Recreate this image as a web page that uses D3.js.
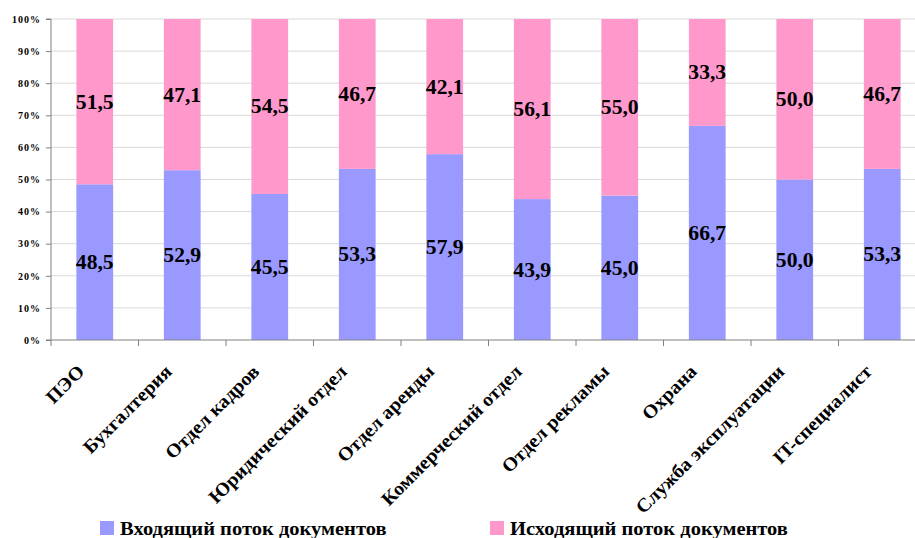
<!DOCTYPE html>
<html><head><meta charset="utf-8">
<script src="https://cdn.jsdelivr.net/npm/d3@7"></script>
<style>body{margin:0;background:#fff}svg{display:block}text{font-family:"Liberation Serif","Times New Roman","DejaVu Serif",serif}</style>
</head><body><svg id="c" width="915" height="538"></svg>
<script>
const categories = ["ПЭО","Бухгалтерия","Отдел кадров","Юридический отдел","Отдел аренды","Коммерческий отдел","Отдел рекламы","Охрана","Служба эксплуатации","IT-специалист"];
const incoming = [48.5, 52.9, 45.5, 53.3, 57.9, 43.9, 45.0, 66.7, 50.0, 53.3];
const outgoing = [51.5, 47.1, 54.5, 46.7, 42.1, 56.1, 55.0, 33.3, 50.0, 46.7];
const seriesNames = ["Входящий поток документов","Исходящий поток документов"];
const yTicks = [0,10,20,30,40,50,60,70,80,90,100];

const colors = ["#9999FF","#FF99CC"];
const svg = d3.select("#c");
const L = 51, T = 19, B = 340, R = 51 + 87.5*10;
const x = d3.scaleBand().domain(categories).range([L, R]).paddingInner(0.58).paddingOuter(0.29);
const y = d3.scaleLinear().domain([0,100]).range([B, T]);

// gridlines
svg.append("g").selectAll("line").data(yTicks.filter(d=>d>0)).join("line")
  .attr("x1", L).attr("x2", 915).attr("y1", d=>y(d)).attr("y2", d=>y(d))
  .attr("stroke", "#d9d9d9").attr("stroke-width", 1);

// bars
const stacked = categories.map((c,i)=>({c, segs:[{s:0,y0:0,y1:incoming[i],v:incoming[i]},{s:1,y0:incoming[i],y1:incoming[i]+outgoing[i],v:outgoing[i]}]}));
const g = svg.append("g");
stacked.forEach(d=>{
  d.segs.forEach(s=>{
    const top = Math.min(100,s.y1);
    g.append("rect").attr("x", x(d.c)).attr("width", x.bandwidth())
      .attr("y", y(top)).attr("height", y(s.y0)-y(top))
      .attr("fill", colors[s.s]);
    g.append("text").attr("transform", `translate(${x(d.c)+x.bandwidth()/2},${(y(s.y0)+y(top))/2}) scale(1.08,1)`)
      .attr("dy","0.35em").attr("text-anchor","middle")
      .style("font-weight","bold").style("font-size","20px")
      .text(d3.format(".1f")(s.v).replace(".",","));
  });
});

// y axis
const ya = svg.append("g").attr("transform",`translate(${L},0)`)
  .call(d3.axisLeft(y).tickValues(yTicks).tickFormat(d=>d+"%").tickSize(5).tickPadding(5));
ya.attr("font-family",null);
ya.select(".domain").attr("stroke","#808080").attr("d",`M-5,${B}H0V${T}H-5`);
ya.selectAll(".tick line").attr("stroke","#808080");
ya.selectAll(".tick text").style("font-weight","bold").style("font-size","10px").style("letter-spacing","1px").attr("fill","#000");

// x axis
const xa = svg.append("g").attr("transform",`translate(0,${B})`);
xa.append("line").attr("x1",L).attr("x2",915).attr("stroke","#808080");
const bounds = d3.range(0, categories.length+1).map(i=>L + i*x.step());
xa.selectAll(".tk").data(bounds).join("line").attr("class","tk")
  .attr("x1",d=>d).attr("x2",d=>d).attr("y1",0).attr("y2",6).attr("stroke","#808080");
xa.selectAll(".lbl").data(categories).join("text").attr("class","lbl")
  .attr("transform", d=>`translate(${x(d)+x.bandwidth()/2-14},${28}) rotate(-45) scale(1.06,1)`)
  .attr("text-anchor","end").attr("dy","0.35em")
  .style("font-weight","bold").style("font-size","19px")
  .text(d=>d);

// legend
const leg = svg.append("g");
const lx = [100, 490];
seriesNames.forEach((n,i)=>{
  leg.append("rect").attr("x",lx[i]).attr("y",521).attr("width",14).attr("height",14).attr("fill",colors[i]);
  leg.append("text").attr("transform",`translate(${lx[i]+20},528) scale(1.08,1)`).attr("dy","0.35em")
    .style("font-weight","bold").style("font-size","19px").text(n);
});
</script></body></html>
